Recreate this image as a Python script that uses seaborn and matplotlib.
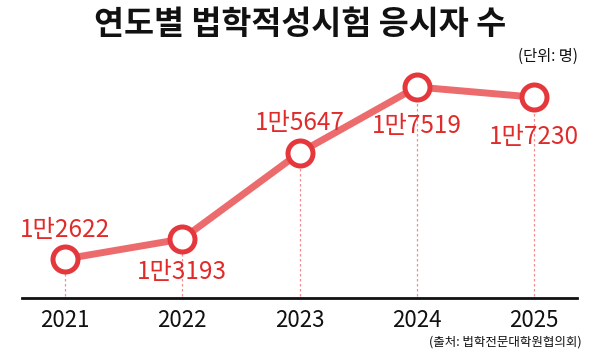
import pandas as pd
import seaborn as sns
import matplotlib.pyplot as plt

# --- 데이터 ---
years = ['2021', '2022', '2023', '2024', '2025']
applicants = [12622, 13193, 15647, 17519, 17230]
value_labels = ['1만2622', '1만3193', '1만5647', '1만7519', '1만7230']

# 라벨 위치 (점 기준 offset, pt)
label_offsets = [11.5, -14.5, 12, -19, -19]

LINE_COLOR = '#EC6B6D'
MARK_COLOR = '#E5383D'
TEXT_RED = '#E02B2B'

sns.set_theme(style='white')
plt.rcParams['font.family'] = ['Noto Sans CJK KR', 'DejaVu Sans']

df = pd.DataFrame({'year': range(len(years)), 'count': applicants})

fig = plt.figure(figsize=(6, 3.54), dpi=100)
ax = fig.add_axes([0.0367, 0.1582, 0.925, 0.6723])

# 점선 가이드
for i, v in enumerate(applicants):
    ax.plot([i, i], [11000, v], color='#F28C8E', lw=0.9, ls=(0, (2, 2)), zorder=1)

sns.lineplot(data=df, x='year', y='count', ax=ax, color=LINE_COLOR, lw=5,
             marker='o', markersize=18, markerfacecolor='white',
             markeredgecolor=MARK_COLOR, markeredgewidth=3.6, zorder=3)

ax.set_xlim(-0.367, 4.367)
ax.set_ylim(11512, 18288)

for i, (v, txt, off) in enumerate(zip(applicants, value_labels, label_offsets)):
    ax.annotate(txt, (i, v), xytext=(0, off), textcoords='offset points',
                ha='center', va='bottom' if off > 0 else 'top',
                fontsize=17.5, color=TEXT_RED)

ax.set_xticks(range(len(years)))
ax.set_xticklabels(years, fontsize=16, color='#111111')
ax.set_yticks([])
ax.set_xlabel('')
ax.set_ylabel('')
ax.tick_params(axis='x', length=0, pad=8)
for s in ['top', 'right', 'left']:
    ax.spines[s].set_visible(False)
ax.spines['bottom'].set_color('#111111')
ax.spines['bottom'].set_linewidth(2)

fig.text(0.5, 0.93, '연도별 법학적성시험 응시자 수', ha='center', va='center',
         fontsize=23.5, fontweight='bold', color='#111111')
fig.text(0.963, 0.84, '(단위: 명)', ha='right', va='center', fontsize=11, color='#111111')
fig.text(0.97, 0.035, '(출처: 법학전문대학원협의회)', ha='right', va='center',
         fontsize=9, color='#111111')

fig.savefig('out.png', dpi=100, facecolor='white')
